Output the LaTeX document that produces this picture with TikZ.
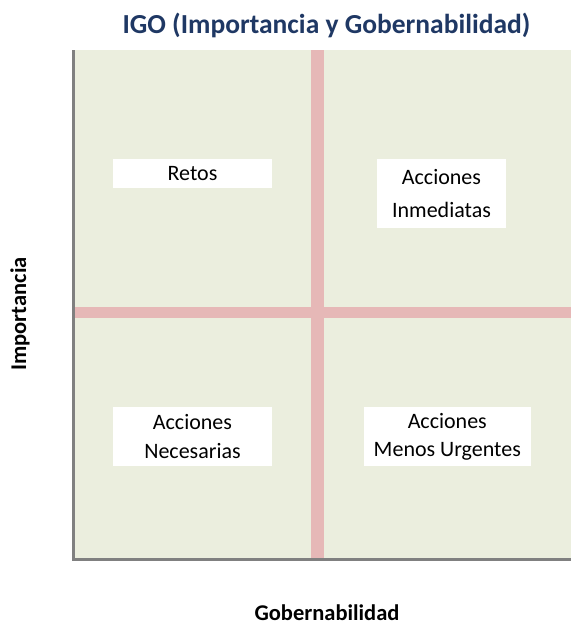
\documentclass[tikz,border=0pt]{standalone}
\usepackage{fontspec}
\setmainfont{Carlito}
\definecolor{plotfill}{RGB}{235,238,222}
\definecolor{pinkline}{RGB}{230,184,183}
\definecolor{framegray}{RGB}{128,128,128}
\definecolor{titleblue}{RGB}{31,56,100}
\begin{document}
\begin{tikzpicture}[x=1pt,y=-1pt,
  quadbox/.style={fill=white,draw=none,inner sep=0pt,align=center,font=\fontsize{22}{28.5}\selectfont},
  axislabel/.style={font=\bfseries\fontsize{22.5}{26}\selectfont,inner sep=0pt},
  titlelabel/.style={font=\bfseries\fontsize{27.5}{30}\selectfont,text=titleblue,inner sep=0pt}]
\useasboundingbox (0,0) rectangle (571,625);
% plot area
\fill[plotfill] (72,50) rectangle (571,558);
\fill[pinkline] (311,50) rectangle (324,558);
\fill[pinkline] (75,307) rectangle (571,317.5);
\fill[framegray] (72,50) rectangle (75,561);
\fill[framegray] (72,558) rectangle (571,561);
% title and axes
\node[titlelabel] (title) at (326.5,25) {IGO (Importancia y Gobernabilidad)};
\node[axislabel] (xlab) at (327,613) {Gobernabilidad};
\node[axislabel,rotate=90] (ylab) at (20,314) {Importancia};
% quadrant boxes
\node[quadbox,minimum width=158.4pt,minimum height=29.3pt] (retos) at (192.5,173.7) {Retos};
\node[quadbox,minimum width=128.4pt,minimum height=69pt,font=\fontsize{22}{33}\selectfont] (inmed) at (441.5,193.5) {Acciones\\Inmediatas};
\node[quadbox,minimum width=158.4pt,minimum height=58.7pt] (neces) at (192.5,436.7) {Acciones\\Necesarias};
\node[quadbox,minimum width=166.7pt,minimum height=58.7pt] (menos) at (447.3,436.7) {Acciones\\Menos Urgentes};
\end{tikzpicture}
\end{document}
